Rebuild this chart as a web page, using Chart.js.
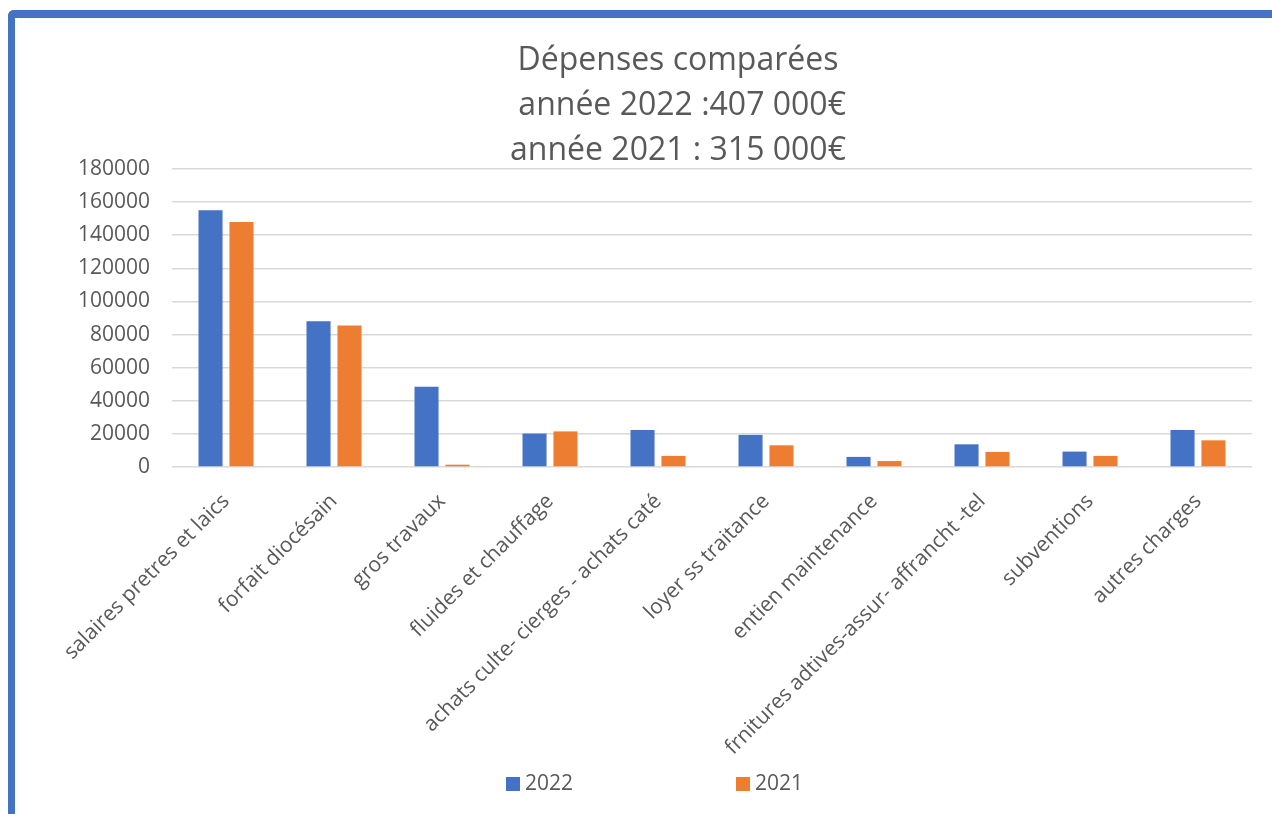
<!DOCTYPE html>
<html>
<head>
<meta charset="utf-8">
<script src="https://cdn.jsdelivr.net/npm/chart.js@4"></script>
<style>
    html, body {
        margin: 0;
        padding: 0;
        overflow: hidden;
        background: #ffffff;
        width: 1272px;
        height: 814px;
    }
    #frame {
        position: absolute;
        left: 8px;
        top: 10px;
        width: 1400px;
        height: 900px;
        border-left: 7px solid #4472c4;
        border-top: 8px solid #4472c4;
        border-top-left-radius: 6px;
    }
    #chart {
        position: absolute;
        left: 15px;
        top: 18px;
    }
</style>
</head>
<body>
<div id="frame"></div>
<canvas id="chart" width="1326" height="796"></canvas>
<script>
let categories = [
    "salaires pretres et laics",
    "forfait diocésain",
    "gros travaux",
    "fluides et chauffage",
    "achats culte- cierges - achats caté",
    "loyer ss traitance",
    "entien maintenance",
    "frnitures adtives-assur- affrancht -tel",
    "subventions",
    "autres charges"
];
let values2022 = [155000, 88000, 48500, 20200, 22400, 19400, 6100, 13700, 9300, 22400];
let values2021 = [148000, 85500, 1400, 21500, 6700, 13100, 3600, 9100, 6700, 16100];
let titleLines = ["Dépenses comparées", " année 2022 :407 000€", "année 2021 : 315 000€"];

let textColor = "#595959";
let font = "'Open Sans', sans-serif";

// Excel style legend: two items spread far apart below the axis labels
let spreadLegend = {
    id: "spreadLegend",
    afterDraw: function (chart) {
        let ctx = chart.ctx;
        let left = chart.chartArea.left;
        let offsets = [334, 564];
        ctx.save();
        ctx.font = "21px " + font;
        ctx.textBaseline = "middle";
        ctx.textAlign = "left";
        chart.data.datasets.forEach(function (ds, i) {
            let x = left + offsets[i];
            ctx.fillStyle = ds.backgroundColor;
            ctx.fillRect(x, 759, 14, 14);
            ctx.fillStyle = textColor;
            ctx.fillText(ds.label, x + 19, 766);
        });
        ctx.restore();
    }
};

new Chart(document.getElementById("chart"), {
    type: "bar",
    data: {
        labels: categories,
        datasets: [{
            label: "2022",
            data: values2022,
            backgroundColor: "#4472c4"
        }, {
            label: "2021",
            data: values2021,
            backgroundColor: "#ed7d31"
        }]
    },
    options: {
        responsive: false,
        animation: false,
        categoryPercentage: 0.573,
        barPercentage: 0.777,
        layout: {
            padding: 0
        },
        plugins: {
            legend: { display: false },
            tooltip: { enabled: false },
            title: {
                display: true,
                text: titleLines,
                color: textColor,
                font: { family: font, size: 32, weight: "normal", lineHeight: 1.406 },
                padding: { top: 20, bottom: -4 }
            }
        },
        scales: {
            x: {
                grid: { display: false },
                border: { display: false },
                ticks: {
                    color: textColor,
                    font: { family: font, size: 21 },
                    minRotation: 45,
                    maxRotation: 45,
                    autoSkip: false,
                    padding: 14
                },
                afterFit: function (scale) {
                    scale.height = 347;
                }
            },
            y: {
                min: 0,
                max: 180000,
                grid: { color: "#d9d9d9", lineWidth: 1.5, drawTicks: false },
                border: { display: false },
                ticks: {
                    stepSize: 20000,
                    color: textColor,
                    font: { family: font, size: 21 },
                    padding: 22,
                    callback: function (v) { return String(v); }
                },
                afterFit: function (scale) {
                    scale.width = 157;
                }
            },
            // empty box on the right so the title centre sits where Excel put it
            spacer: {
                type: "linear",
                position: "right",
                grid: { display: false },
                border: { display: false },
                ticks: { display: false },
                afterFit: function (scale) {
                    scale.width = 89;
                }
            }
        }
    },
    plugins: [spreadLegend]
});
</script>
</body>
</html>
